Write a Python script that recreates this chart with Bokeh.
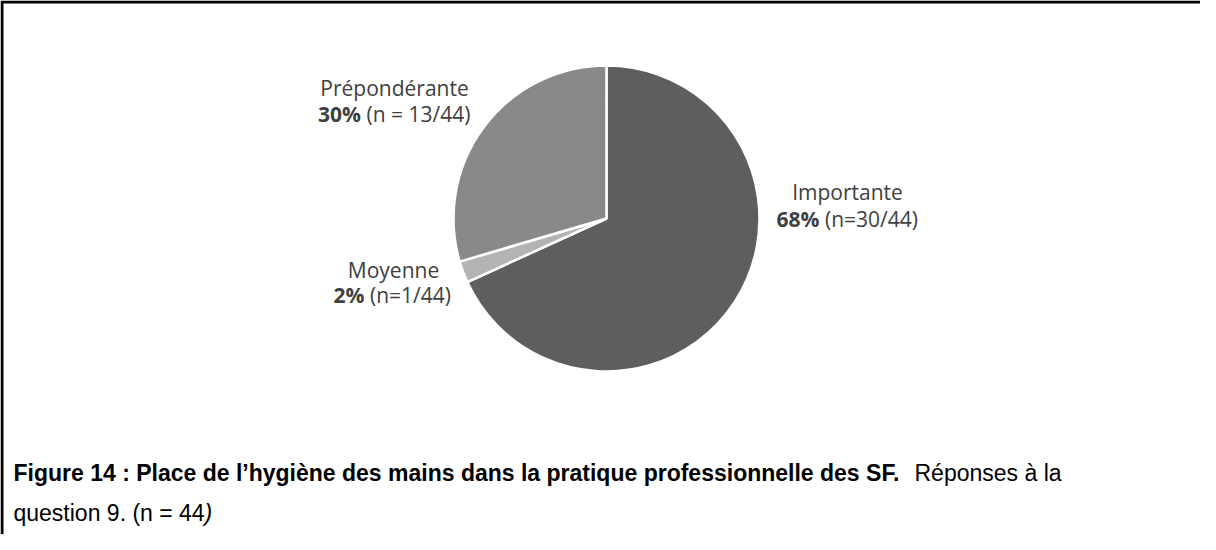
import math
from bokeh.plotting import figure
from bokeh.models import Range1d, ColumnDataSource
from bokeh.core.properties import value
from bokeh.embed import file_html
from bokeh.resources import INLINE

# ---- data ----
categories = ["Importante", "Moyenne", "Prépondérante"]
counts = [30, 1, 13]
total = 44
pct_labels = ["68%", "2%", "30%"]
n_labels = ["(n=30/44)", "(n=1/44)", "(n = 13/44)"]
colors = ["#5e5e5e", "#b3b3b3", "#898989"]

caption_bold = "Figure 14 : Place de l\u2019hygi\u00e8ne des mains dans la pratique professionnelle des SF."
caption_reg = "R\u00e9ponses \u00e0 la"
caption_line2 = "question 9. (n = 44"
caption_line2_end = ")"

# ---- layout (page px -> data) ----
W, H = 1200, 534
OX, OY = 8, 8
def dx(px):
    return px - OX
def dy(py):
    return (OY + H) - py

p = figure(width=W, height=H, output_backend="svg", toolbar_location=None,
           x_range=Range1d(0, W), y_range=Range1d(0, H), min_border=0)
p.xaxis.visible = False
p.yaxis.visible = False
p.grid.visible = False
p.outline_line_color = None
p.background_fill_color = "white"
p.border_fill_color = "white"

# border (left, top, right)
p.line(x=[1.5, 1.5, dx(1212.5), dx(1212.5)], y=[-20, H - 1.5, H - 1.5, -20],
       line_color="black", line_width=3, line_join="miter")

# pie
cx, cy, r = dx(614), dy(226), 153
starts, ends = [], []
acc = 0
for c in counts:
    starts.append(math.pi / 2 - 2 * math.pi * acc / total)
    acc += c
    ends.append(math.pi / 2 - 2 * math.pi * acc / total)
src = ColumnDataSource(dict(start=starts, end=ends, color=colors, cat=categories))
p.wedge(x=cx, y=cy, radius=r, start_angle="start", end_angle="end", direction="clock",
        fill_color="color", line_color="white", line_width=2.5, source=src)

# labels: (center x, baseline1, baseline2, bold end x, regular start x) in page px
label_pos = {
    "Importante": (855, 199, 226, 827, 832.5),
    "Moyenne": (401, 277, 302, 372, 377.5),
    "Prépondérante": (402, 95, 121, 368.5, 374),
}
FONT = value("Open Sans")
for cat, pl, nl in zip(categories, pct_labels, n_labels):
    cxl, b1, b2, be, rs = label_pos[cat]
    p.text(x=[dx(cxl)], y=[dy(b1)], text=[cat], text_font=FONT, text_font_size="21px",
           text_color="#404040", text_align="center", text_baseline="alphabetic")
    p.text(x=[dx(be)], y=[dy(b2)], text=[pl], text_font=FONT, text_font_size="21px",
           text_font_style="bold", text_color="#404040", text_align="right",
           text_baseline="alphabetic")
    p.text(x=[dx(rs)], y=[dy(b2)], text=[nl], text_font=FONT, text_font_size="21px",
           text_color="#404040", text_align="left", text_baseline="alphabetic")

CAP = value("Liberation Sans")
p.text(x=[dx(21)], y=[dy(480)], text=[caption_bold], text_font=CAP, text_font_size="23px",
       text_font_style="bold", text_color="black", text_align="left", text_baseline="alphabetic")
p.text(x=[dx(922)], y=[dy(480)], text=[caption_reg], text_font=CAP, text_font_size="23px",
       text_color="black", text_align="left", text_baseline="alphabetic")
p.text(x=[dx(21)], y=[dy(520)], text=[caption_line2], text_font=CAP, text_font_size="23px",
       text_color="black", text_align="left", text_baseline="alphabetic")
p.text(x=[dx(212)], y=[dy(520)], text=[caption_line2_end], text_font=CAP, text_font_size="23px",
       text_font_style="italic", text_color="black", text_align="left", text_baseline="alphabetic")

open("out.html", "w").write(file_html(p, INLINE))
